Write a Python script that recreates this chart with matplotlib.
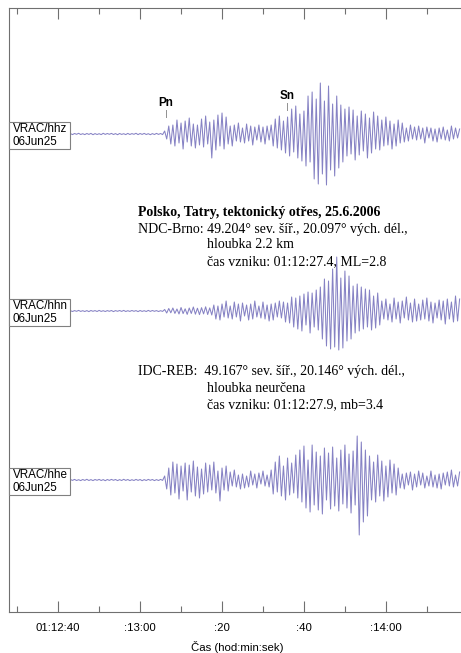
import numpy as np
import matplotlib
matplotlib.use('Agg')
import matplotlib.pyplot as plt
from matplotlib.patches import Rectangle
from matplotlib.ticker import FixedLocator


# seconds after 01:12:00, one sample every 0.5 s
T0 = 43.0
DT = 0.5

# VRAC/hhz (vertical)
HHZ_NOISE = [0.4, -0.6, 0.5, -0.3, 0.7, -0.5, 0.3, -0.6, 0.5, -0.4, 0.6, -0.7, 0.4, -0.5, 0.3, -0.6,
             0.7, -0.4, 0.5, -0.3, 0.6, -0.5, 0.4, -0.7, 0.5, -0.4, 0.3, -0.6, 0.6, -0.5, 0.4, -0.3,
             0.7, -0.6, 0.5, -0.4, 0.6, -0.5, 0.3, -0.7, 0.4, -0.5, 0.6, -0.4, 0.5, -0.6]
HHZ_EVENT = [3, -5, 8, -10, 9,
             -12, 14, -9, 11, -15, 13, -8, 16, -12, 10, -14, 9, -11, 15, -13, 18, -10, 12,
             -24, 14, -16, 19, -12, 21, -15, 17,
             -10, 8, -12, 9, -7, 11, -8, 6, -9, 10, -7, 8, -11, 7, -6, 9, -8, 7, -10, 8, -6, 9,
             -12, 15, -14, 18, -16, 13, -19, 17,
             -22, 25, -18, 28, -24, 20, -27, 23,
             -32, 38, -28, 42, -45, 35, -50, 51, -40, 33, -51, 48, -36, 30, -42, 38, -34, 29,
             -28, 25, -22, 27, -20, 24, -26, 18, -21, 23, -17, 20, -24, 16, -19, 22, -15, 18,
             -16, 14, -12, 17, -11, 13, -15, 10, -12, 14, -9, 11,
             -8, 6, -7, 9, -5, 7, -6, 8, -5, 6, -9, 7, -4, 6, -7, 5, -8, 6, -5, 7, -6, 4, -7, 8,
             -5, 6, -4, 5]

# VRAC/hhn (north)
HHN_NOISE = [0.3, -0.5, 0.4, -0.3, 0.6, -0.4, 0.3, -0.5, 0.4, -0.6, 0.5, -0.3, 0.4, -0.5, 0.6, -0.4,
             0.3, -0.5, 0.4, -0.3, 0.5, -0.6, 0.4, -0.3, 0.5, -0.4, 0.6, -0.5, 0.3, -0.4, 0.5, -0.3,
             0.4, -0.6, 0.5, -0.4, 0.3, -0.5, 0.6, -0.4, 0.5, -0.3, 0.4, -0.5, 0.3, -0.4]
HHN_EVENT = [1.5, -2, 2.5, -1.8, 3, -2.4, 2, -3, 3.5, -2.6, 2.2, -3.4, 3, -2.5, 4, -3.2, 2.8, -3.6,
             3.3, -2.9, 4.2, -3.5, 3.1, -4,
             6, -8, 5, -9, 7, -6, 10, -7, 5, -8, 9, -6, 7, -10, 8, -5, 6, -9, 7, -8, 10, -6, 5, -7,
             9, -8, 6, -10, 7, -9, 8, -6, 10, -7, 9, -11, 8,
             -12, 14, -16, 13, -18, 15, -20, 17, -14, 19, -22, 18, -16, 21, -19, 24,
             -28, 32, -35, 30, -38, 42, -36, 54, -39, 33, -37, 40, -30, 35,
             -28, 25, -22, 27, -20, 24, -18, 22, -16, 21, -19, 15, -17, 18, -14,
             10, -8, 12, -9, 7, -11, 13, -8, 9, -12, 10, -7, 14, -9, 8, -11, 12, -10, 7, -9, 11,
             -8, 13, -10, 9, -12, 8, -7, 11, -9, 10, -13, 12, -8, 9, -11, 15, -10, 12]

# VRAC/hhe (east)
HHE_NOISE = [0.5, -0.4, 0.6, -0.5, 0.3, -0.6, 0.5, -0.4, 0.7, -0.5, 0.4, -0.6, 0.5, -0.3, 0.6, -0.5,
             0.4, -0.7, 0.5, -0.4, 0.6, -0.3, 0.5, -0.6, 0.4, -0.5, 0.7, -0.4, 0.5, -0.6, 0.3, -0.5,
             0.6, -0.4, 0.5, -0.7, 0.4, -0.5, 0.6, -0.3, 0.5, -0.6, 0.4, -0.5, 0.6, -0.4]
HHE_EVENT = [4, -9, 12, -15, 18, -13, 16, -19, 14, -11, 17, -20, 15, -12, 19, -16, 13, -18, 11, -14,
             17, -12, 15, -10, 18, -13, 9, -21, 12, -10, 14, -11,
             8, -6, 10, -7, 5, -9, 6, -8, 4, -7, 9, -5, 6, -8, 7, -4, 9, -6, 5, -7,
             10, -14, 18, -12, 24, -16, 14, -20, 22, -15, 17, -13, 25, -18,
             30, -22, 34, -28, 20, -32, 35, -25, 28, -30, 24, -34, 32, -20, 27, -29, 33, -26, 22,
             -31, 30, -24, 35, -28, 26, -33, 29, -25,
             44, -55, 38, -42, 30, -36,
             24, -20, 18, -22, 25, -16, 19, -21, 14, -17, 20, -13, 16, -15, 12,
             -8, 6, -9, 7, -5, 8, -10, 6, -7, 9, -5, 7, -8, 4, -6, 9, -7, 5, -8, 6, -9, 7, -5, 8,
             -6, 10, -7, 5, -6, 8]

CHANNELS = ['VRAC/hhz', 'VRAC/hhn', 'VRAC/hhe']
DATE_LABEL = '06Jun25'
BASELINES = [478, 301, 132]

MAJOR_TICKS = [40, 60, 80, 100, 120]
MAJOR_LABELS = ['01:12:40', ':13:00', ':20', ':40', ':14:00']
MINOR_TICKS = [30, 50, 70, 90, 110, 130]

PHASES = ['Pn', 'Sn']
PHASE_TIMES = [66.3, 95.8]

TITLE = 'Polsko, Tatry, tektonický otřes, 25.6.2006'
NDC_LINES = ['NDC-Brno: 49.204° sev. šíř., 20.097° vých. dél.,',
             'hloubka 2.2 km',
             'čas vzniku: 01:12:27.4, ML=2.8']
IDC_LINES = ['IDC-REB:  49.167° sev. šíř., 20.146° vých. dél.,',
             'hloubka neurčena',
             'čas vzniku: 01:12:27.9, mb=3.4']

W, H = 461, 653
TRACE_COLOR = '#8682c4'
AXIS_COLOR = '#707070'
SANS = ['Liberation Sans', 'DejaVu Sans']
SERIF = ['Liberation Serif', 'DejaVu Serif']


def fig_xy(x, y):
    return x / W, 1 - y / H


fig = plt.figure(figsize=(W / 100, H / 100), dpi=100)
left, bottom = fig_xy(9, 612)
_, top = fig_xy(9, 8)
ax = fig.add_axes([left, bottom, 1 - left + 0.01, top - bottom])
ax.set_xlim(28, 28 + (W + 5 - 9) / 4.1)
ax.set_ylim(0, 604)

traces = [HHZ_NOISE + HHZ_EVENT, HHN_NOISE + HHN_EVENT, HHE_NOISE + HHE_EVENT]
for name, base, vals in zip(CHANNELS, BASELINES, traces):
    t = T0 + DT * np.arange(len(vals))
    ax.plot(t, base + np.array(vals), color=TRACE_COLOR, lw=0.75, zorder=2)
    ax.add_patch(Rectangle((28, base - 15), 14.9, 27, facecolor='white',
                           edgecolor='#808080', lw=0.8, zorder=3, clip_on=False))
    ax.text(28.9, base - 1.5, f'{name}\n{DATE_LABEL}', fontsize=8.4, family=SANS,
            va='center', ha='left', linespacing=1.1, zorder=4)

# phase picks on the vertical component
for ph, tp, dy in zip(PHASES, PHASE_TIMES, [0, 7]):
    ax.plot([tp, tp], [612 - 117 + dy, 612 - 110 + dy], color='#909090', lw=0.7)
    ax.text(tp, 612 - 103 + dy, ph, fontsize=8.5, family=SANS, weight='bold',
            ha='center', va='center')

# event information
fs = 10
fig.text(*fig_xy(138, 212), TITLE, fontsize=fs, family=SERIF, weight='bold', va='center')
fig.text(*fig_xy(138, 229), NDC_LINES[0], fontsize=fs, family=SERIF, va='center')
fig.text(*fig_xy(207, 245), NDC_LINES[1], fontsize=fs, family=SERIF, va='center')
fig.text(*fig_xy(207, 262), NDC_LINES[2], fontsize=fs, family=SERIF, va='center')
fig.text(*fig_xy(138, 372), IDC_LINES[0], fontsize=fs, family=SERIF, va='center')
fig.text(*fig_xy(207, 388), IDC_LINES[1], fontsize=fs, family=SERIF, va='center')
fig.text(*fig_xy(207, 405), IDC_LINES[2], fontsize=fs, family=SERIF, va='center')

ax.set_yticks([])
ax.xaxis.set_major_locator(FixedLocator(MAJOR_TICKS))
ax.xaxis.set_minor_locator(FixedLocator(MINOR_TICKS))
ax.set_xticklabels(MAJOR_LABELS, fontsize=8.2, family=SANS)
ax.tick_params(axis='x', which='major', direction='in', length=8, width=0.8,
               color=AXIS_COLOR, top=True, pad=8)
ax.tick_params(axis='x', which='minor', direction='in', length=4, width=0.8,
               color=AXIS_COLOR, top=True)
ax.set_xlabel('Čas (hod:min:sek)', fontsize=8.2, family=SANS, labelpad=6)
ax.spines['right'].set_visible(False)
for s in ['left', 'top', 'bottom']:
    ax.spines[s].set_color(AXIS_COLOR)
    ax.spines[s].set_linewidth(0.8)

fig.savefig('out.png', dpi=100)
